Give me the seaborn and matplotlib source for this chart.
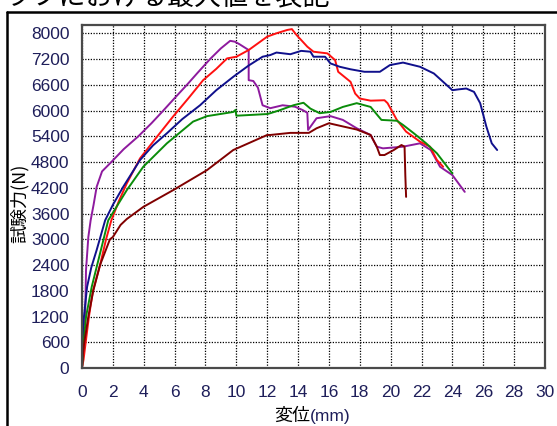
import numpy as np
import pandas as pd
import matplotlib
matplotlib.use("Agg")
import matplotlib.pyplot as plt
from matplotlib.lines import Line2D
import seaborn as sns

# ---------------- data ----------------
purple_x = [0, 0.1, 0.2, 0.26, 0.41, 0.56, 0.75, 0.95, 1.3, 1.9, 2.7, 3.65, 4.5, 5.27, 6.0, 6.8, 7.5, 8.3, 9.0, 9.6,
            9.9, 10.2, 10.8, 10.8, 11.1, 11.4, 11.7, 12.2, 13.0, 13.8, 14.3, 14.6, 14.65, 15.2, 16.1, 16.9, 17.8,
            18.7, 19.1, 19.5, 20.8, 21.9, 22.6, 23.2, 24.0, 24.8]
purple_y = [0, 1000, 1140, 2340, 3130, 3530, 3900, 4330, 4700, 4923, 5230, 5538, 5850, 6154, 6450, 6769, 7060, 7385, 7640, 7820,
            7800, 7740, 7600, 6880, 6860, 6700, 6280, 6210, 6280, 6245, 6165, 6100, 5690, 5970, 6020, 5930, 5730,
            5570, 5290, 5250, 5290, 5370, 5210, 4810, 4610, 4210]

red_x = [0, 0.1, 0.24, 0.45, 0.71, 1.17, 1.56, 1.9, 2.4, 2.9, 3.76, 4.8, 5.9, 6.9, 7.85, 8.7, 9.4, 10.0, 10.8, 11.4,
         12.0, 12.6, 13.3, 13.6, 13.9, 14.6, 15.0, 15.9, 16.4, 16.6, 17.4, 17.7, 18.0, 18.7, 19.6, 19.8, 20.4, 21.0,
         21.9, 22.55, 23.0, 23.4]
red_y = [0, 200, 615, 1231, 1846, 2462, 3077, 3530, 4000, 4410, 5010, 5500, 6010, 6450, 6880, 7150, 7400, 7440, 7600, 7760,
         7920, 8000, 8080, 8100, 7960, 7680, 7560, 7520, 7360, 7080, 6840, 6560, 6440, 6390, 6400, 6330, 5930, 5650,
         5410, 5290, 4970, 4810]

blue_x = [0, 0.05, 0.1, 0.33, 0.6, 0.95, 1.5, 2.0, 2.67, 3.76, 4.6, 5.5, 6.5, 7.65, 8.7, 9.8, 10.8, 11.7, 12.2, 12.6,
          13.5, 14.2, 14.8, 15.0, 15.75, 16.1, 16.7, 17.4, 18.3, 19.3, 19.95, 20.8, 21.9, 22.8, 23.4, 24.0, 24.4,
          24.9, 25.4, 25.8, 26.2, 26.55, 26.9]
blue_y = [0, 600, 1140, 1940, 2400, 2820, 3530, 3900, 4330, 4970, 5320, 5610, 5950, 6280, 6640, 6960, 7230, 7440, 7480, 7540,
          7500, 7580, 7560, 7440, 7440, 7280, 7200, 7140, 7080, 7080, 7240, 7300, 7200, 7040, 6840, 6640, 6660,
          6680, 6600, 6330, 5770, 5370, 5210]

green_x = [0, 0.1, 0.26, 0.63, 1.17, 1.7, 2.9, 3.97, 5.5, 7.2, 8.1, 9.8, 9.95, 10.0, 12.0, 12.2, 12.8, 13.7, 14.35,
           14.8, 15.4, 16.1, 16.9, 17.8, 18.7, 19.4, 20.4, 20.8, 21.5, 22.3, 23.0, 24.0]
green_y = [0, 600, 1220, 1940, 2740, 3530, 4250, 4810, 5370, 5890, 6020, 6120, 6170, 6030, 6070, 6090, 6160, 6280, 6340,
           6200, 6090, 6120, 6240, 6330, 6240, 5930, 5910, 5810, 5610, 5370, 5130, 4650]

maroon_x = [0, 0.05, 0.15, 0.41, 0.73, 1.17, 1.81, 2.0, 2.5, 2.9, 3.97, 5.9, 8.1, 9.8, 12.0, 12.2, 13.5, 14.7, 15.2,
            16.0, 16.95, 17.8, 18.7, 19.1, 19.3, 19.6, 20.2, 20.7, 20.9, 20.95, 21.0]
maroon_y = [0, 300, 615, 1231, 1846, 2462, 3077, 3130, 3420, 3560, 3850, 4250, 4730, 5210, 5570, 5570, 5620, 5620, 5730,
            5850, 5770, 5700, 5570, 5290, 5090, 5090, 5210, 5330, 5290, 4600, 4090]

series_names = ["purple", "red", "blue", "green", "maroon"]
series_colors = ["#8E1A9E", "#FF1010", "#10108C", "#0A8C0A", "#800000"]

x_ticks = list(range(0, 31, 2))
y_tick_labels = ["0", "600", "1200", "1800", "2400", "3000", "3600", "4200", "4800",
                 "5400", "6000", "6600", "7200", "8000"]

title_text = "グラフにおける最大値を表記"
x_label_jp, x_label_unit = "変位", "(mm)"
y_label = "試験力(N)"

# ---------------- build table ----------------
xs = [purple_x, red_x, blue_x, green_x, maroon_x]
ys = [purple_y, red_y, blue_y, green_y, maroon_y]
frames = []
for name, sx, sy in zip(series_names, xs, ys):
    frames.append(pd.DataFrame({"x": sx, "y": sy, "series": name}))
df = pd.concat(frames, ignore_index=True)

# ---------------- plot ----------------
sns.set_style("white")
plt.rcParams['font.family'] = ['Liberation Sans', 'Noto Sans CJK JP', 'DejaVu Sans']

W, H = 557, 426
fig = plt.figure(figsize=(W / 100, H / 100), dpi=100)
ax = fig.add_axes([82 / W, 1 - 368 / H, (545 - 82) / W, (368 - 25) / H])

sns.lineplot(data=df, x="x", y="y", hue="series", units="series", estimator=None, sort=False,
             palette=dict(zip(series_names, series_colors)), legend=False, linewidth=1.4, ax=ax)

ax.set_xlim(0, 30)
ax.set_ylim(0, 8000 * (368 - 25) / (368 - 33.3))
ax.set_xticks(x_ticks)
ax.set_xticklabels([str(t) for t in x_ticks])
ax.set_yticks(np.linspace(0, 8000, len(y_tick_labels)))
ax.set_yticklabels(y_tick_labels)
tick_color = "#1E1E5A"
ax.tick_params(axis="both", length=0, labelsize=12.5, colors=tick_color)
ax.tick_params(axis="x", pad=12)
ax.tick_params(axis="y", pad=9)
ax.grid(True, color="black", linestyle=(0, (1, 1.2)), linewidth=0.9)
ax.set_axisbelow(True)
for s in ax.spines.values():
    s.set_visible(True)
    s.set_color("#4A4A4A")
    s.set_linewidth(1.6)
ax.set_xlabel("")
ax.set_ylabel("")

# axis labels
fig.text(310 / W, 1 - 416 / H, x_label_jp, ha="right", va="center", fontsize=13,
         family=['Noto Sans CJK JP'], color="black")
fig.text(310 / W, 1 - 416 / H, x_label_unit, ha="left", va="center", fontsize=12.5,
         color=tick_color)
fig.text(20 / W, 1 - 203 / H, y_label, ha="center", va="center", rotation=90, fontsize=13,
         family=['Noto Sans CJK JP', 'Liberation Sans'], color="black")

# partially visible title (cut at the top edge, as in the reference) and outer frame
fig.text(330 / W, 1 - 4.5 / H, title_text, ha="right", va="baseline", fontsize=19.5,
         family=['Noto Sans CJK JP'], color="black")
fig.add_artist(Line2D([7 / W, 1.0], [1 - 11.5 / H, 1 - 11.5 / H], color="black", linewidth=1.8,
                      transform=fig.transFigure))
fig.add_artist(Line2D([7 / W, 7 / W], [0, 1 - 11.5 / H], color="black", linewidth=1.8,
                      transform=fig.transFigure))

fig.savefig("out.png", dpi=100)
